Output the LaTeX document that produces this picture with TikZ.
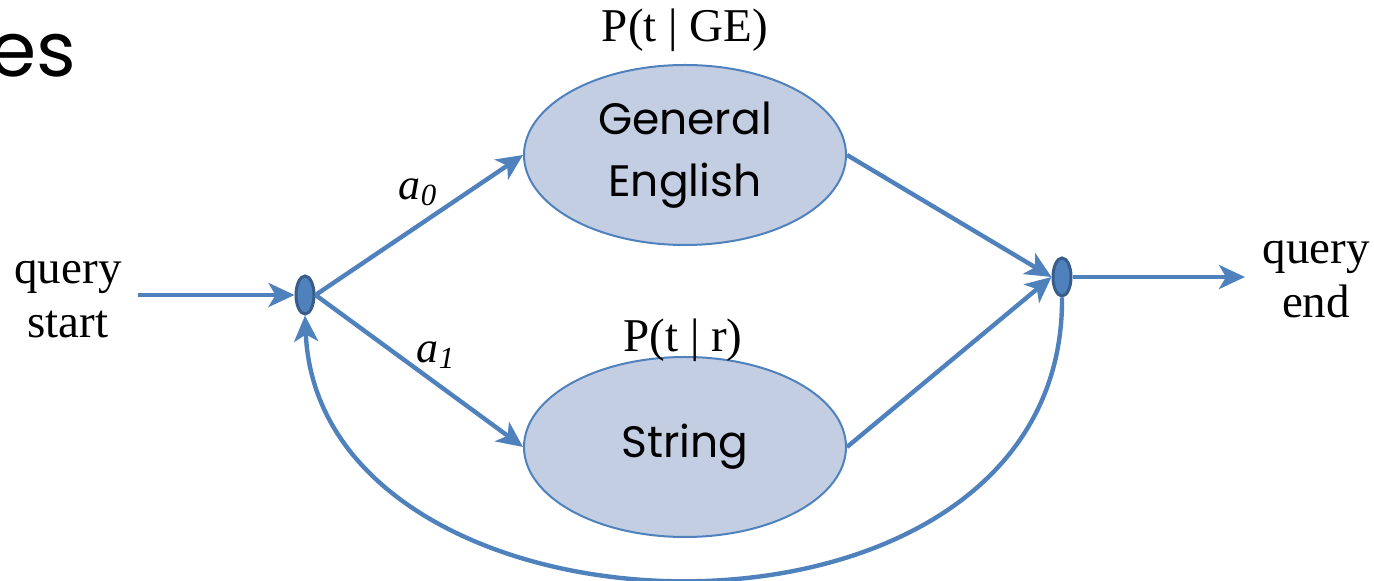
\documentclass[tikz,border=0pt]{standalone}
\usepackage{fontspec}
\setmainfont{Liberation Serif}
\newfontfamily\gothic{Poppins}
\usetikzlibrary{shapes.geometric,arrows.meta}
\definecolor{lineblue}{RGB}{79,129,189}
\definecolor{darkblue}{RGB}{56,93,138}
\definecolor{fillblue}{RGB}{196,206,227}
\tikzset{
  conn/.style={draw=lineblue, line width=2.2pt, -{Stealth[length=13pt,width=12pt,inset=3.5pt]}},
  state/.style={ellipse, draw=lineblue, line width=1pt, fill=fillblue, minimum width=161pt, minimum height=90pt, inner sep=0pt, align=center, font=\gothic\fontsize{22}{31}\selectfont},
  dot/.style={ellipse, draw=darkblue, line width=1.5pt, fill=lineblue, minimum width=9pt, minimum height=19pt, inner sep=0pt},
  lbl/.style={font=\fontsize{23.5}{27}\selectfont, align=center, inner sep=0pt},
  wt/.style={font=\itshape\fontsize{22}{25}\selectfont, inner sep=0pt}
}
\begin{document}
\begin{tikzpicture}[x=0.5pt,y=-0.5pt]
\useasboundingbox (0,0) rectangle (1374,581);
\node[anchor=base east, inner sep=0pt, font=\gothic\fontsize{38}{40}\selectfont] (title) at (77,77) {es};
\node[state] (ge) at (685,155) {General\\English};
\node[state] (str) at (685,447) {String};
\node[lbl] (pge) at (685,30) {P(t | GE)};
\node[lbl] (pr) at (683,340) {P(t | r)};
\node[dot] (ls) at (305,295) {};
\node[dot] (rs) at (1062,277) {};
\node[lbl] (qs) at (68,299) {query\\start};
\node[lbl] (qe) at (1316,279) {query\\end};
\coordinate (qsend) at (138,295);
\coordinate (qeend) at (1245,277);
\node[wt] (a0) at (418,192) {a\textsubscript{0}};
\node[wt] (a1) at (436,355) {a\textsubscript{1}};
\draw[conn] (qsend) -- (ls.west);
\draw[conn] (ls.east) -- (ge.west);
\draw[conn] (ls.east) -- (str.west);
\draw[conn] (ge.east) -- (rs.west);
\draw[conn] (str.east) -- (rs.west);
\draw[conn] (rs.east) -- (qeend);
\draw[conn] (rs.south) .. controls (1065,680) and (320,660) .. (ls.south);
\end{tikzpicture}
\end{document}
